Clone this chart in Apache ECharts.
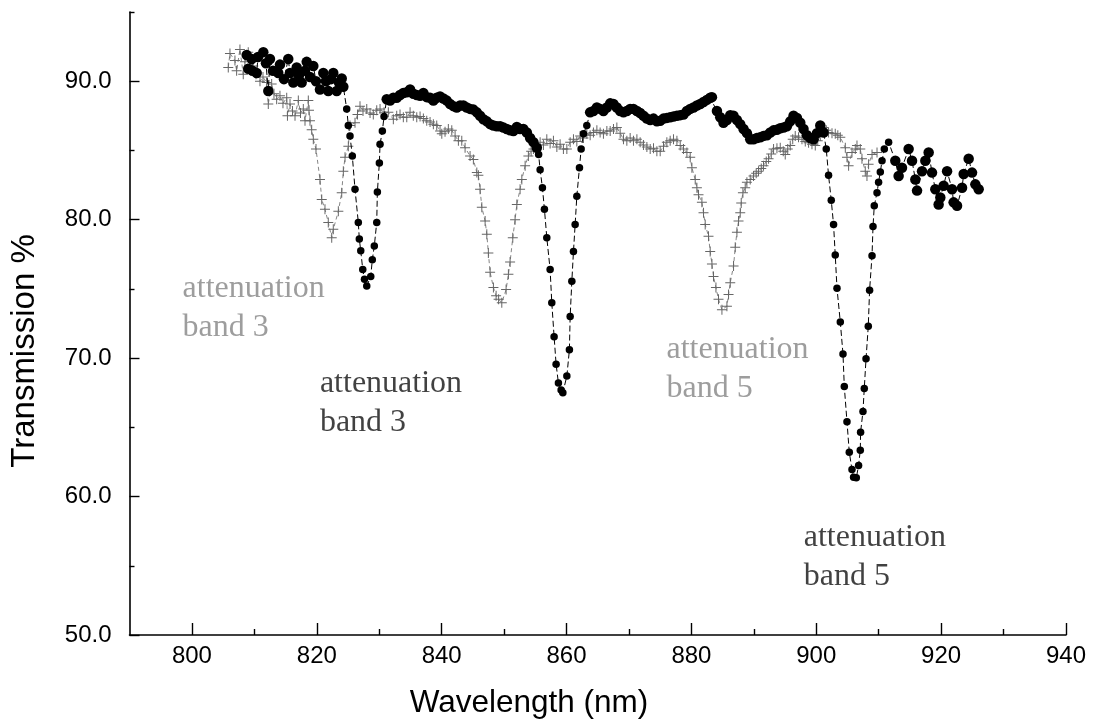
<!DOCTYPE html>
<html><head><meta charset="utf-8">
<script src="https://cdn.jsdelivr.net/npm/echarts@6/dist/echarts.min.js"></script>
<style>html,body{margin:0;padding:0;background:#fff}#c{width:1097px;height:724px}</style>
</head><body><div id="c"></div>
<script>
// ---- data: black dot series (wavelength nm, transmission %) ----
const dotWl = [808.77,809.02,809.57,809.7,810.37,810.58,811.43,811.86,812.23,812.5,812.98,813.83,814.1,814.74,815.43,815.71,816.23,816.78,817.15,817.58,818.11,818.38,818.91,819.44,819.87,820.51,821.04,821.47,821.84,822.28,822.64,823.19,823.56,823.99,824.25,
824.79,825.05,825.32,825.69,826.12,826.65,826.81,827.04,827.36,827.64,828.0,828.64,828.89,829.21,829.6,829.7,830.02,830.13,830.5,830.77,831.2,
831.73,832.26,832.8,833.33,833.86,834.41,834.94,835.46,836.01,836.54,837.07,837.61,838.14,838.67,839.21,839.74,840.27,840.82,841.35,841.88,842.42,842.95,843.48,844.02,844.55,845.08,845.63,846.15,846.68,847.23,847.76,848.29,848.83,849.36,849.89,850.43,850.96,851.49,852.04,852.56,853.09,853.64,854.17,854.7,855.24,
855.53,855.77,856.14,856.46,856.84,857.37,857.64,858.01,858.33,858.7,859.13,859.41,860.05,860.46,860.58,860.85,861.11,861.38,861.65,862.07,862.34,862.71,863.25,
863.78,864.31,864.86,865.38,865.91,866.46,866.99,867.52,868.06,868.59,869.12,869.66,870.19,870.72,871.27,871.79,872.32,872.87,873.4,873.93,874.47,875.0,875.53,876.07,876.6,877.13,877.68,878.21,878.73,879.28,879.81,880.34,880.88,881.41,881.94,882.48,883.01,883.29,884.09,884.62,885.14,885.69,886.22,886.75,887.29,887.82,888.35,888.89,889.42,889.95,890.5,891.03,891.55,892.1,892.63,893.16,893.7,894.23,894.76,895.3,895.83,896.36,896.91,897.44,897.96,898.51,899.04,899.57,900.11,900.64,901.17,
901.6,901.97,902.4,902.77,903.04,903.32,903.85,904.28,904.49,904.92,905.29,905.72,905.98,906.41,906.78,907.05,907.1,907.48,907.69,907.97,908.33,908.54,908.93,909.09,909.29,909.73,909.98,910.26,910.53,910.9,911.59,
912.66,913.19,913.73,914.79,915.34,915.87,916.14,916.94,917.47,918.0,918.54,919.07,919.6,919.87,920.4,920.95,921.75,922.0,922.55,923.35,923.61,924.41,924.95,925.48,926.01];
const dotT = [91.9,90.9,91.6,90.75,90.6,91.75,92.1,91.3,89.3,91.6,90.75,90.6,91.2,90.15,91.6,90.6,89.9,91.0,90.45,89.9,90.75,91.4,90.3,91.1,90.0,89.4,90.6,90.0,89.3,90.15,90.6,89.3,89.9,90.2,89.6,
88.0,86.8,86.05,84.6,82.2,79.8,78.6,77.75,76.4,75.7,75.2,75.9,77.1,78.1,79.8,82.0,84.1,85.45,86.4,87.45,88.7,
88.6,88.8,88.8,89.0,89.15,89.2,89.4,89.1,89.0,88.95,89.15,88.85,88.8,88.6,88.8,88.9,88.75,88.6,88.35,88.2,88.1,88.25,88.25,88.1,88.0,87.95,87.75,87.5,87.25,87.1,86.9,86.8,86.75,86.75,86.65,86.55,86.45,86.4,86.7,86.55,86.55,86.3,85.9,85.6,85.2,
84.7,83.6,82.3,80.75,78.7,76.4,74.0,71.55,69.55,68.2,67.7,67.5,68.7,70.6,73.0,75.55,77.7,79.65,81.7,83.75,85.1,86.2,86.8,
87.75,87.85,88.1,88.0,87.85,88.1,88.4,88.35,88.1,87.85,87.75,87.85,88.0,88.0,87.85,87.7,87.5,87.3,87.2,87.3,87.1,87.15,87.3,87.35,87.4,87.45,87.5,87.55,87.6,87.85,88.0,88.1,88.25,88.35,88.5,88.65,88.8,88.85,87.85,87.4,87.0,87.2,87.55,87.5,87.2,86.9,86.55,86.25,85.8,85.8,85.9,85.95,86.05,86.1,86.3,86.45,86.5,86.6,86.65,86.75,87.1,87.5,87.35,87.0,86.55,86.1,85.9,85.8,86.25,86.8,86.3,
85.1,83.2,81.4,79.65,77.45,75.05,72.6,70.3,67.95,65.4,63.2,61.95,61.4,61.35,62.25,63.35,64.65,66.15,67.8,69.95,72.3,74.9,77.4,79.5,81.0,81.95,82.7,83.45,84.25,85.1,85.6,
84.25,83.15,83.75,85.1,84.25,82.9,82.1,83.5,84.25,84.85,83.4,82.2,81.1,81.6,82.45,83.5,82.2,81.25,81.0,82.3,83.3,84.4,83.4,82.55,82.2];

// ---- data: grey cross series ----
const crossWl = [805.82,806.09,806.89,807.16,807.69,808.22,808.49,809.02,809.82,810.26,810.9,811.38,811.97,812.23,812.77,813.14,813.57,814.1,814.58,815.18,815.3,815.71,816.11,816.51,817.04,817.39,817.84,818.11,818.64,818.75,818.91,
819.18,819.44,819.87,820.51,820.79,821.31,821.84,822.39,822.64,823.45,823.99,824.25,824.52,825.05,825.32,826.12,826.52,826.92,827.4,828.0,828.53,829.05,829.6,830.13,830.77,831.46,832.26,832.8,833.33,833.86,834.41,834.94,835.46,836.01,836.54,837.07,837.61,838.14,838.67,839.21,839.74,840.02,840.54,841.07,841.62,842.15,842.68,843.22,843.75,
844.55,845.08,845.63,845.88,846.15,846.43,846.96,847.23,847.48,847.76,848.29,848.72,849.12,849.63,850.32,850.69,850.96,851.39,851.76,852.04,852.56,852.84,853.37,853.89,854.33,854.7,855.24,855.77,856.3,856.84,857.37,857.9,858.45,858.97,859.5,860.05,860.58,861.11,861.65,862.18,862.71,863.25,863.78,864.31,864.86,865.38,865.91,866.46,866.99,867.52,868.06,868.59,869.12,869.66,870.19,870.72,871.27,871.79,872.32,872.87,873.4,873.93,874.47,875.0,875.53,876.07,876.6,877.13,877.68,878.21,878.73,879.28,879.81,
880.08,880.61,880.88,881.14,881.68,881.94,882.21,882.74,883.01,883.29,883.54,883.93,884.34,884.89,885.69,885.95,886.22,886.75,887.02,887.29,887.55,887.82,887.98,888.25,888.62,888.89,889.42,889.95,890.38,890.75,891.19,891.55,891.99,892.36,892.79,893.16,893.7,894.23,894.71,895.03,895.43,895.83,896.23,896.63,897.16,897.71,898.24,898.77,899.31,899.84,900.24,900.64,901.17,901.6,901.97,902.52,903.04,903.45,903.85,904.65,904.92,905.18,905.72,906.25,906.52,907.05,907.32,907.85,908.12,908.38,908.93,909.73];
const crossT = [91.0,92.0,91.5,90.75,92.3,90.5,91.4,92.1,91.1,90.5,90.0,90.3,89.9,88.35,89.8,89.1,88.7,88.95,88.4,88.8,87.5,88.35,87.85,87.5,88.6,87.7,88.0,87.15,88.6,87.9,87.15,
86.5,85.8,85.1,82.9,81.45,80.75,79.8,78.7,79.3,80.6,81.95,83.5,84.5,85.3,86.8,87.0,87.6,88.2,87.85,88.0,87.7,87.6,87.9,88.0,87.75,87.75,87.25,87.5,87.6,87.4,87.4,87.75,87.5,87.4,87.45,87.3,87.15,87.05,86.9,86.8,86.4,86.2,86.35,86.55,86.45,86.05,85.7,85.7,85.2,
84.6,84.35,83.4,83.2,82.2,80.9,79.9,78.95,77.6,76.2,75.1,74.5,74.25,74.0,74.95,76.05,76.95,78.7,80.0,81.1,82.2,82.9,83.9,84.6,84.95,85.1,85.4,85.6,85.4,85.8,85.5,85.7,85.25,85.45,85.1,85.1,85.6,85.8,85.65,86.05,85.9,86.2,86.1,86.3,86.45,86.3,86.2,86.4,86.4,86.55,86.65,86.25,85.8,85.7,85.9,85.7,85.8,85.6,85.4,85.25,85.1,85.15,84.95,84.95,85.3,85.6,85.7,85.8,85.7,85.35,85.1,84.85,84.5,
83.75,82.9,82.3,81.8,81.25,80.5,79.65,78.8,77.7,76.8,75.9,75.1,74.25,73.5,73.75,74.6,75.45,76.65,78.0,79.1,79.9,80.5,81.2,81.95,82.3,82.7,82.9,83.15,83.35,83.5,83.7,83.9,84.2,84.4,84.75,85.1,85.15,85.2,84.95,84.7,85.1,85.35,85.8,86.05,85.95,85.8,85.65,85.55,85.45,85.35,85.7,86.05,86.65,86.45,86.3,86.25,86.2,86.1,85.95,85.2,84.5,83.9,84.85,85.1,85.35,85.1,84.4,83.5,83.15,84.0,84.7,84.85];

// ---- axes ----
const xMajor = [800, 820, 840, 860, 880, 900, 920, 940];
const xMinor = [810, 830, 850, 870, 890, 910, 930];
const yMajor = [50, 60, 70, 80, 90];
const yMinor = [55, 65, 75, 85, 95];

// ---- annotations (anchor = top-left of text block, in data units) ----
const greyNoteWl = [798.5, 876.0];
const greyNoteT = [76.45, 72.05];
const greyNoteText = ['attenuation\nband 3', 'attenuation\nband 5'];
const blackNoteWl = [820.5, 898.0];
const blackNoteT = [69.55, 58.45];
const blackNoteText = ['attenuation\nband 3', 'attenuation\nband 5'];

// wavelength spans where the dots are drawn smaller (the sparse dip flanks)
const dipSpans = [[824.5, 831.0], [855.3, 863.3], [901.4, 911.7]];

const pairs = (a, b) => a.map((v, i) => [v, b[i]]);
const notes = (w, t, s) => w.map((v, i) => ({ value: [v, t[i]], name: s[i] }));
const inDip = w => dipSpans.some(s => w >= s[0] && w <= s[1]);

const SANS = '"Liberation Sans", Arial, sans-serif';
const SERIF = '"Liberation Serif", "Times New Roman", serif';
const plus = 'path://M4.5,0 L5.5,0 L5.5,4.5 L10,4.5 L10,5.5 L5.5,5.5 L5.5,10 L4.5,10 L4.5,5.5 L0,5.5 L0,4.5 L4.5,4.5 Z';

const chart = echarts.init(document.getElementById('c'), null, { renderer: 'canvas' });
const xBase = { type: 'value', min: 790, max: 940, position: 'bottom', splitLine: { show: false } };
const yBase = { type: 'value', min: 50, max: 95, position: 'left', splitLine: { show: false } };

chart.setOption({
  animation: false,
  backgroundColor: '#fff',
  grid: { left: 129.5, right: 31, top: 12, bottom: 89 },
  xAxis: [
    Object.assign({}, xBase, {
      axisLine: { show: true, lineStyle: { color: '#000', width: 1.6 } },
      axisTick: { show: true, inside: true, length: 12, customValues: xMajor, lineStyle: { color: '#000', width: 1.4 } },
      axisLabel: { show: true, customValues: xMajor, margin: 9, fontSize: 24, color: '#000', fontFamily: SANS }
    }),
    Object.assign({}, xBase, {
      axisLine: { show: false },
      axisTick: { show: true, inside: true, length: 6, customValues: xMinor, lineStyle: { color: '#000', width: 1.4 } },
      axisLabel: { show: false }
    })
  ],
  yAxis: [
    Object.assign({}, yBase, {
      axisLine: { show: true, lineStyle: { color: '#000', width: 1.6 } },
      axisTick: { show: true, inside: true, length: 10, customValues: yMajor, lineStyle: { color: '#000', width: 1.4 } },
      axisLabel: { show: true, customValues: yMajor, margin: 18, fontSize: 24, color: '#000', fontFamily: SANS,
                   formatter: v => v.toFixed(1) }
    }),
    Object.assign({}, yBase, {
      axisLine: { show: false },
      axisTick: { show: true, inside: true, length: 5, customValues: yMinor, lineStyle: { color: '#000', width: 1.4 } },
      axisLabel: { show: false }
    })
  ],
  graphic: [
    { type: 'text', x: 25, y: 351, rotation: Math.PI / 2,
      style: { text: 'Transmission %', font: '33px ' + SANS, fill: '#000', align: 'center', verticalAlign: 'middle' } },
    { type: 'text', x: 529, y: 703,
      style: { text: 'Wavelength (nm)', font: '31.5px ' + SANS, fill: '#000', align: 'center', verticalAlign: 'middle' } }
  ],
  series: [
    {
      type: 'line', name: 'grey', xAxisIndex: 0, yAxisIndex: 0,
      data: pairs(crossWl, crossT),
      symbol: plus, symbolSize: 10, showAllSymbol: true,
      itemStyle: { color: '#666' },
      lineStyle: { color: '#777', width: 0.9, type: [4, 3] },
      z: 2
    },
    {
      type: 'line', name: 'black', xAxisIndex: 0, yAxisIndex: 0,
      data: pairs(dotWl, dotT),
      symbol: 'circle', showAllSymbol: true,
      symbolSize: v => inDip(v[0]) ? 7.5 : 10.5,
      itemStyle: { color: '#000' },
      lineStyle: { color: '#000', width: 1, type: [6, 3] },
      z: 3
    },
    {
      type: 'scatter', xAxisIndex: 0, yAxisIndex: 0, symbolSize: 0, silent: true,
      data: notes(greyNoteWl, greyNoteT, greyNoteText),
      label: { show: true, position: [0, 0], align: 'left', verticalAlign: 'top', formatter: p => p.name,
               fontFamily: SERIF, fontSize: 32, lineHeight: 39, color: '#858585' }
    },
    {
      type: 'scatter', xAxisIndex: 0, yAxisIndex: 0, symbolSize: 0, silent: true,
      data: notes(blackNoteWl, blackNoteT, blackNoteText),
      label: { show: true, position: [0, 0], align: 'left', verticalAlign: 'top', formatter: p => p.name,
               fontFamily: SERIF, fontSize: 32, lineHeight: 39, color: '#111' }
    }
  ]
});
</script>
</body></html>
